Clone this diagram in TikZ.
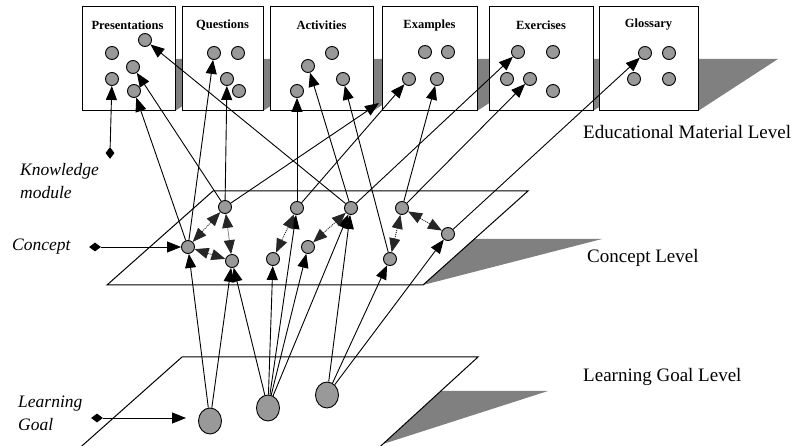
\documentclass[tikz,border=0pt]{standalone}
\usepackage{fontspec}
\setmainfont{Liberation Serif}
\usetikzlibrary{arrows.meta,shapes.geometric}
\definecolor{dotgray}{HTML}{999999}
\definecolor{shadowgray}{HTML}{808080}
\pgfdeclarelayer{bg}
\pgfdeclarelayer{lines}
\pgfsetlayers{bg,lines,main}
\begin{document}
\begin{tikzpicture}[x=1pt,y=-1pt,
  dot/.style={circle,draw=black,fill=dotgray,line width=0.9pt,minimum size=13pt,inner sep=0pt},
  goal/.style={ellipse,draw=black,fill=dotgray,line width=0.9pt,minimum width=23pt,minimum height=26pt,inner sep=0pt},
  link/.style={line width=0.9pt,-{Triangle[length=14pt,width=11pt]}},
  rel/.style={line width=0.9pt,dash pattern=on 1pt off 1pt,draw=black!85,{Triangle[length=14pt,width=11pt]}-{Triangle[length=14pt,width=11pt]}},
  mbox/.style={draw=black,fill=white,line width=1pt},
  plane/.style={draw=black,line width=1pt},
  pin/.style={diamond,fill=black,inner sep=0pt},
  title/.style={font=\bfseries\fontsize{12.5}{14}\selectfont,inner sep=0pt},
  level/.style={font=\fontsize{19}{22}\selectfont,anchor=west,inner sep=0pt},
  side/.style={font=\itshape\fontsize{17.5}{23}\selectfont,anchor=west,align=left,inner sep=0pt}
]
\useasboundingbox (0,0) rectangle (793,446);
\begin{pgfonlayer}{bg}
  \foreach \r in {175,263,373,477,593,698}
    \fill[shadowgray] (\r,59) -- (\r+80,59) -- (\r,111) -- cycle;
  \foreach \a/\b in {82/175,182/263,270/373,382/477,489/593,599/698}
    \draw[mbox] (\a,7) rectangle (\b,111);
  \fill[shadowgray] (423,285) -- (602,239) -- (474,239) -- cycle;
  \draw[plane] (107,285) -- (423,285) -- (528,191) -- (213,191) -- cycle;
  \fill[shadowgray] (383,444) -- (548,391) -- (441,391) -- cycle;
  \draw[plane] (79.6,448) -- (378.6,448) -- (478,357) -- (182,357) -- cycle;
\end{pgfonlayer}

% titles
\node[title] (tP) at (127.5,25) {Presentations};
\node[title] (tQ) at (222.5,25) {Questions};
\node[title] (tA) at (321.5,25) {Activities};
\node[title] (tE) at (429.5,25) {Examples};
\node[title] (tX) at (541,25) {Exercises};
\node[title] (tG) at (648.5,25) {Glossary};

% material dots
\node[dot] (P1) at (145,40) {};
\node[dot] (P2) at (112,53) {};
\node[dot] (P3) at (133,67) {};
\node[dot] (P4) at (112,79) {};
\node[dot] (P5) at (134,91) {};
\node[dot] (Q1) at (214,53) {};
\node[dot] (Q2) at (238,53) {};
\node[dot] (Q3) at (227,79) {};
\node[dot] (Q4) at (239,91) {};
\node[dot] (A1) at (332,53) {};
\node[dot] (A2) at (308,66) {};
\node[dot] (A3) at (343,79) {};
\node[dot] (A4) at (297,91) {};
\node[dot] (E1) at (425,52) {};
\node[dot] (E2) at (448,52) {};
\node[dot] (E3) at (409,79) {};
\node[dot] (E4) at (437,79) {};
\node[dot] (X1) at (518,52) {};
\node[dot] (X2) at (553,52) {};
\node[dot] (X3) at (507,79) {};
\node[dot] (X4) at (530,79) {};
\node[dot] (X5) at (553,91) {};
\node[dot] (G1) at (645,53) {};
\node[dot] (G2) at (669,53) {};
\node[dot] (G3) at (634,79) {};
\node[dot] (G4) at (669,79) {};

% concept dots
\node[dot] (C1) at (225,207) {};
\node[dot] (C2) at (188,247) {};
\node[dot] (C3) at (232,261) {};
\node[dot] (C4) at (273,259) {};
\node[dot] (C5) at (297,208) {};
\node[dot] (C6) at (308,247) {};
\node[dot] (C7) at (351,208) {};
\node[dot] (C8) at (402,208) {};
\node[dot] (C9) at (448,234) {};
\node[dot] (C10) at (390,259) {};

% learning goals
\node[goal] (L1) at (210,421) {};
\node[goal] (L2) at (268,408) {};
\node[goal] (L3) at (327,395) {};

% labels
\node[level] (lvE) at (583,132) {Educational Material Level};
\node[level] (lvC) at (587,258) {Concept Level};
\node[level] (lvL) at (583,377) {Learning Goal Level};
\node[side] (sK) at (20,181.5) {Knowledge\\module};
\node[side] (sC) at (12,247) {Concept};
\node[side] (sL) at (18,413.5) {Learning\\Goal};

\node[pin,minimum width=9pt,minimum height=12pt] (kmPin) at (110,153) {};
\node[pin,minimum width=12pt,minimum height=9pt] (cPin) at (95,247) {};
\node[pin,minimum width=12pt,minimum height=9pt] (lPin) at (97,418) {};
\coordinate (lTip) at (186,418);
\coordinate (aTip) at (379,103);

\begin{pgfonlayer}{lines}
  \draw[link] (kmPin) -- (P4);
  \draw[link] (cPin) -- (C2);
  \draw[link] (lPin) -- (lTip);
  % concept -> material
  \draw[link] (C7) -- (P1);
  \draw[link] (C2) -- (P5);
  \draw[link] (C1) -- (P3);
  \draw[link] (C2) -- (Q1);
  \draw[link] (C1) -- (Q3);
  \draw[link] (C5) -- (A4);
  \draw[link] (C7) -- (A2);
  \draw[link] (C10) -- (A3);
  \draw[link] (C1) -- (aTip);
  \draw[link] (C5) -- (E3);
  \draw[link] (C8) -- (E4);
  \draw[link] (C7) -- (X1);
  \draw[link] (C8) -- (X4);
  \draw[link] (C9) -- (G1);
  % goal -> concept
  \draw[link] (L1) -- (C2);
  \draw[link] (L1) -- (C3);
  \draw[link] (L2) -- (C3);
  \draw[link] (L2) -- (C4);
  \draw[link] (L2) -- (C5);
  \draw[link] (L2) -- (C6);
  \draw[link] (L2) -- (C7);
  \draw[link] (L3) -- (C7);
  \draw[link] (L3) -- (C10);
  \draw[link] (L3) -- (C9);
  % concept relations
  \draw[rel] (C1) -- (C2);
  \draw[rel] (C1) -- (C3);
  \draw[rel] (C2) -- (C3);
  \draw[rel] (C4) -- (C5);
  \draw[rel] (C6) -- (C7);
  \draw[rel] (C8) -- (C10);
  \draw[rel] (C8) -- (C9);
\end{pgfonlayer}
\end{tikzpicture}
\end{document}
